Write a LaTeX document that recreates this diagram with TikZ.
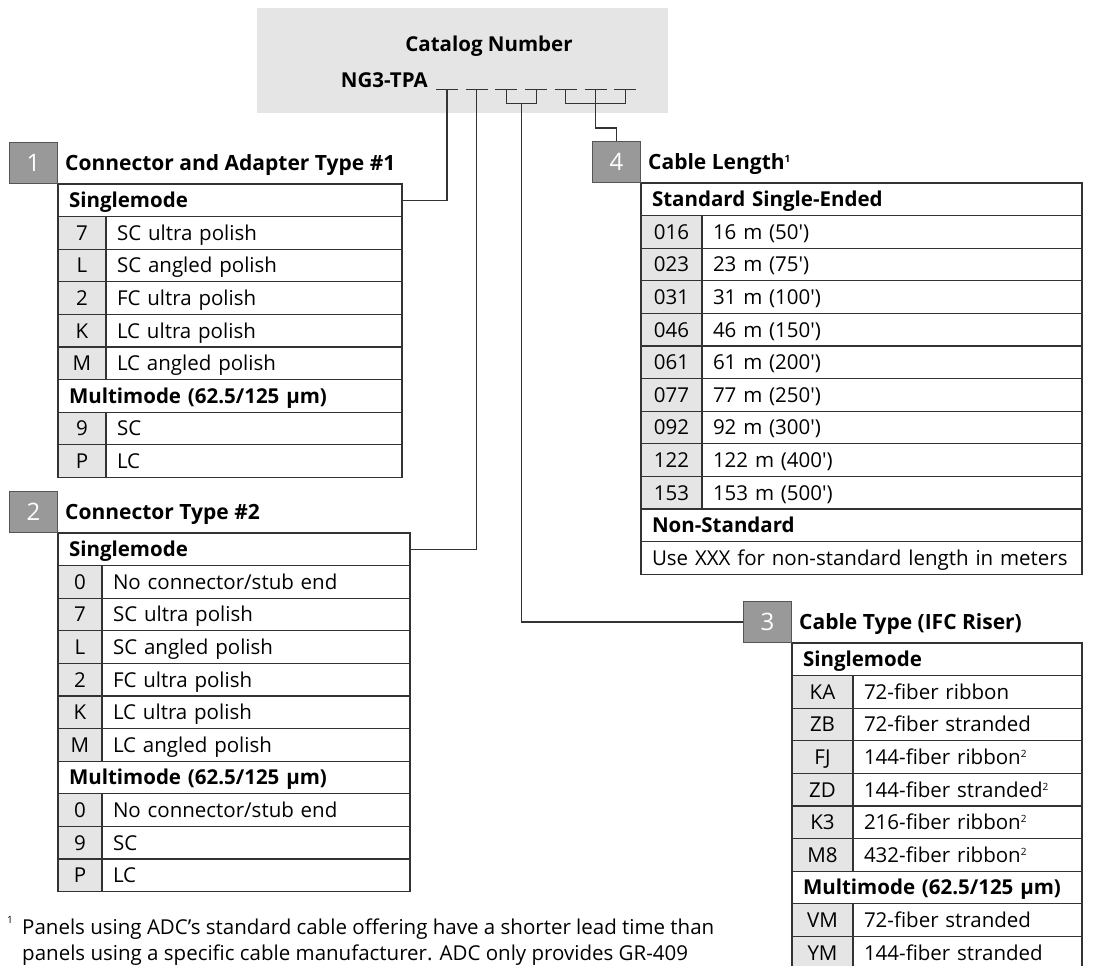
\documentclass[tikz,border=0pt]{standalone}
\usepackage{fontspec}
\setmainfont{Open Sans}[Ligatures=TeXOff]
\usetikzlibrary{positioning, calc}
\definecolor{catfill}{HTML}{E5E5E5}
\definecolor{codefill}{HTML}{E5E5E5}
\definecolor{badgefill}{HTML}{999999}
\definecolor{badgeline}{HTML}{555555}
\definecolor{gridline}{HTML}{333333}

\def\rh{32.6}
\newcommand{\bodyfont}{\fontsize{20.5}{24}\selectfont}
\newcommand{\noteref}[1]{\raisebox{7pt}{\fontsize{10}{10}\selectfont #1}}

% Full-width row: #1 style, #2 name, #3 x left, #4 x right, #5 y top, #6 text
\newcommand{\headrow}[6][headcell]{
    \pgfmathsetmacro\celltw{#4-#3-22}
    \node[#1, text width=\celltw pt] (#2) at (#3,{#5}) {\mbox{#6}};
}
% Code row: #1 name, #2 x left, #3 x split, #4 x right, #5 y top,
%           #6 code, #7 description
\newcommand{\coderow}[7]{
    \pgfmathsetmacro\cellcw{#3-#2}
    \pgfmathsetmacro\celltw{#4-#3-22}
    \node[codecell, minimum width=\cellcw pt] (#1c) at (#2,{#5}) {#6};
    \node[desccell, text width=\celltw pt] (#1d) at (#3,{#5}) {#7};
}

\begin{document}
\begin{tikzpicture}[
    x=1pt, y=-1pt,
    font=\bodyfont,
    cell/.style={draw=gridline, line width=1.2pt, anchor=north west,
                 minimum height=\rh pt, inner ysep=0pt, outer sep=0pt,
                 text height=15pt, text depth=0.4pt},
    codecell/.style={cell, fill=codefill, inner xsep=0pt},
    desccell/.style={cell, inner xsep=11pt, align=left},
    headcell/.style={desccell, font=\bodyfont\bfseries},
    badge/.style={draw=badgeline, fill=badgefill, text=white, line width=1.2pt,
                  minimum width=48pt, minimum height=41pt, inner sep=0pt,
                  text height=17pt, text depth=0pt,
                  font=\fontsize{24}{24}\selectfont, anchor=south east},
    btitle/.style={font=\fontsize{21}{24}\selectfont\bfseries, inner sep=0pt,
                   text height=15pt, text depth=0.4pt},
    link/.style={draw=gridline, line width=1.2pt},
]
\useasboundingbox (0,0) rectangle (1120,966);
\clip (0,0) rectangle (1120,966);

% Catalog number box
\node[fill=catfill, minimum width=411pt, minimum height=105pt, inner sep=0pt]
    (cat) at (462.5,60.5) {};
\node[font=\bodyfont\bfseries, anchor=base] (catname) at (489,52) {Catalog Number};
\node[font=\bodyfont\bfseries, anchor=base east, inner sep=0pt]
    (pn) at (428,88) {NG3-TPA};
\foreach \k in {1,...,7}
    \coordinate (d\k) at ({447+(\k-1)*29.7}, 89.5);
\foreach \k in {1,...,7}
    \draw[link] ($(d\k)+(-11,0)$) -- ($(d\k)+(11,0)$);

% Table 1
\headrow{t1h}{58}{402}{184}{Singlemode}
\foreach \c/\d [count=\i] in {7/SC ultra polish, L/SC angled polish,
        2/FC ultra polish, K/LC ultra polish, M/LC angled polish}
    {\coderow{t1r\i}{58}{106}{402}{184+\i*\rh}{\c}{\d}}
\headrow{t1m}{58}{402}{184+6*\rh}{Multimode (62.5/125 µm)}
\foreach \c/\d [count=\i from 7] in {9/SC, P/LC}
    {\coderow{t1r\i}{58}{106}{402}{184+\i*\rh}{\c}{\d}}
\node[badge] (b1) at (t1h.north west) {1};
\node[btitle, right=7pt of b1] (b1t) {Connector and Adapter Type \#1};

% Table 2
\headrow{t2h}{58}{410}{533}{Singlemode}
\foreach \c/\d [count=\i] in {0/{No connector/stub end}, 7/SC ultra polish,
        L/SC angled polish, 2/FC ultra polish, K/LC ultra polish, M/LC angled polish}
    {\coderow{t2r\i}{58}{102}{410}{533+\i*\rh}{\c}{\d}}
\headrow{t2m}{58}{410}{533+7*\rh}{Multimode (62.5/125 µm)}
\foreach \c/\d [count=\i from 8] in {0/{No connector/stub end}, 9/SC, P/LC}
    {\coderow{t2r\i}{58}{102}{410}{533+\i*\rh}{\c}{\d}}
\node[badge] (b2) at (t2h.north west) {2};
\node[btitle, right=7pt of b2] (b2t) {Connector Type \#2};

% Table 4
\headrow{t4h}{641}{1082}{183}{Standard Single-Ended}
\foreach \c/\d [count=\i] in {016/16 m (50'), 023/23 m (75'), 031/31 m (100'),
        046/46 m (150'), 061/61 m (200'), 077/77 m (250'), 092/92 m (300'),
        122/122 m (400'), 153/153 m (500')}
    {\coderow{t4r\i}{641}{702}{1082}{183+\i*\rh}{\c}{\d}}
\headrow{t4n}{641}{1082}{183+10*\rh}{Non-Standard}
\headrow[desccell]{t4x}{641}{1082}{183+11*\rh}{Use XXX for non-standard length in meters}
\node[badge] (b4) at (t4h.north west) {4};
\node[btitle, right=7pt of b4] (b4t) {Cable Length\noteref{1}};

% Table 3
\headrow{t3h}{792}{1082}{643}{Singlemode}
\foreach \c/\d [count=\i] in {KA/72-fiber ribbon, ZB/72-fiber stranded,
        FJ/144-fiber ribbon\noteref{2}, ZD/144-fiber stranded\noteref{2},
        K3/216-fiber ribbon\noteref{2}, M8/432-fiber ribbon\noteref{2}}
    {\coderow{t3r\i}{792}{853}{1082}{643+\i*\rh}{\c}{\d}}
\headrow{t3m}{792}{1082}{643+7*\rh}{Multimode (62.5/125 µm)}
\foreach \c/\d [count=\i from 8] in {VM/72-fiber stranded, YM/144-fiber stranded}
    {\coderow{t3r\i}{792}{853}{1082}{643+\i*\rh}{\c}{\d}}
\node[badge] (b3) at (t3h.north west) {3};
\node[btitle, right=7pt of b3] (b3t) {Cable Type (IFC Riser)};

% Connectors
\draw[link] (d1) |- (t1h.east);
\draw[link] (d2) |- (t2h.east);
\draw[link] (d3) -- ++(0,14) -| (d4);
\draw[link] ($(d3)!0.5!(d4)+(0,14)$) |- (b3.west);
\draw[link] (d5) -- ++(0,14) -| (d7);
\draw[link] (d6) -- ++(0,38.5) -| (b4.north);

% Footnote
\node[font=\fontsize{10}{10}\selectfont, inner sep=0pt] (fnmark) at (10,920) {1};
\node[anchor=base west, inner sep=0pt] (fn1) at (22,934)
    {Panels using ADC’s standard cable offering have a shorter lead time than};
\node[anchor=base west, inner sep=0pt] (fn2) at (22,960)
    {panels using a specific cable manufacturer. ADC only provides GR-409};

\end{tikzpicture}
\end{document}
